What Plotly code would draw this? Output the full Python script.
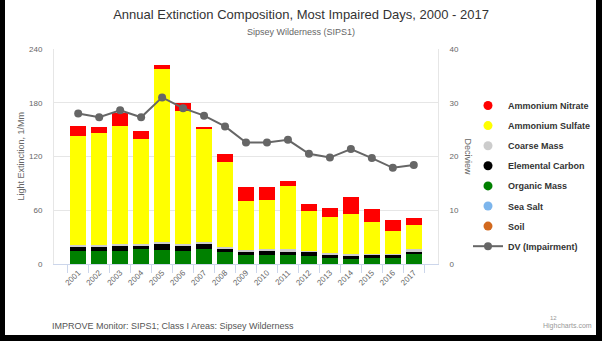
import plotly.graph_objects as go

years = [str(y) for y in range(2001, 2018)]
ammonium_nitrate = [11.0, 7.4, 14.5, 9.6, 5.2, 8.6, 3.0, 8.6, 15.2, 14.1, 5.9, 8.1, 10.1, 18.9, 14.8, 11.6, 8.5]
ammonium_sulfate = [122.2, 125.0, 131.7, 116.5, 193.0, 148.5, 125.9, 94.6, 54.9, 55.7, 70.6, 43.8, 40.0, 45.3, 35.2, 25.5, 26.8]
coarse_mass = [1.5, 1.5, 1.5, 1.9, 1.5, 1.8, 1.8, 1.5, 1.5, 1.5, 1.8, 1.5, 1.2, 1.5, 1.2, 1.2, 2.2]
elemental_carbon = [4.5, 4.5, 5.9, 4.5, 7.4, 5.9, 5.9, 4.8, 4.5, 4.4, 4.5, 4.1, 4.0, 3.4, 3.7, 3.3, 3.3]
organic_mass = [14.3, 14.5, 14.4, 15.8, 15.1, 14.4, 16.2, 12.5, 9.1, 9.9, 9.5, 8.8, 6.6, 5.4, 6.2, 6.6, 10.3]
sea_salt = [0.3, 0.3, 0.3, 0.3, 0.3, 0.3, 0.3, 0.3, 0.3, 0.3, 0.3, 0.3, 0.3, 0.3, 0.3, 0.3, 0.3]
soil = [0.2, 0.2, 0.2, 0.2, 0.2, 0.2, 0.2, 0.2, 0.2, 0.2, 0.2, 0.2, 0.2, 0.2, 0.2, 0.2, 0.2]
dv_impairment = [28.0, 27.3, 28.6, 27.3, 31.0, 29.0, 27.6, 25.6, 22.6, 22.6, 23.1, 20.5, 19.8, 21.4, 19.7, 17.9, 18.4]

VIEW_W = 602           # visible window width
W, H = 640, 341        # figure a bit wider so the legend is never squeezed
ML, MT, MB = 54, 49, 77
PLOT_RIGHT = 438
MR = W - PLOT_RIGHT
PW, PH = PLOT_RIGHT - ML, H - MT - MB
FONT = "Liberation Sans, Arial, Helvetica, sans-serif"


def px(xp):
    return (xp - ML) / PW


def py(yp):
    return (H - MB - yp) / PH


# (name, values, color) from bottom of stack to top
stack = [
    ("Soil", soil, "#d2691e"),
    ("Sea Salt", sea_salt, "#7cb5ec"),
    ("Organic Mass", organic_mass, "#008000"),
    ("Elemental Carbon", elemental_carbon, "#000000"),
    ("Coarse Mass", coarse_mass, "#cccccc"),
    ("Ammonium Sulfate", ammonium_sulfate, "#ffff00"),
    ("Ammonium Nitrate", ammonium_nitrate, "#ff0000"),
]

fig = go.Figure()
for name, vals, col in stack:
    fig.add_trace(go.Bar(x=years, y=vals, name=name, marker=dict(color=col, line=dict(width=0)),
                         showlegend=False))

# legend entries (circle symbols as in the original)
for name, vals, col in reversed(stack):
    fig.add_trace(go.Scatter(x=[None], y=[None], mode="markers", name=name, legendgroup=name,
                             marker=dict(symbol="circle", size=9, color=col)))

fig.add_trace(go.Scatter(x=years, y=dv_impairment, name="DV (Impairment)", yaxis="y2",
                         legendgroup="dv", mode="lines+markers",
                         line=dict(color="#666666", width=2),
                         marker=dict(symbol="circle", size=8, color="#666666")))

fig.update_layout(
    width=W, height=H,
    margin=dict(l=ML, r=MR, t=MT, b=MB, pad=0),
    paper_bgcolor="white", plot_bgcolor="white",
    font=dict(family=FONT, color="#666666", size=8),
    barmode="stack", bargap=0.22,
    title=dict(text="Annual Extinction Composition, Most Impaired Days, 2000 - 2017",
               x=301 / W, xanchor="center", xref="container",
               y=1 - 14 / H, yanchor="middle", yref="container",
               font=dict(family=FONT, size=13, color="#333333")),
    xaxis=dict(type="category", tickangle=-45, tickson="boundaries", ticks="outside",
               ticklen=8, tickcolor="#ccd6eb", showline=True, linecolor="#ccd6eb",
               showgrid=False, tickfont=dict(size=8, color="#666666"), mirror=False),
    yaxis=dict(range=[0, 240], dtick=60, showgrid=True, gridcolor="#e6e6e6", zeroline=False,
               ticks="outside", ticklen=9, tickcolor="rgba(0,0,0,0)",
               tickfont=dict(size=8, color="#666666"), showline=True, linecolor="#e6e6e6"),
    yaxis2=dict(range=[0, 40], dtick=10, overlaying="y", side="right", showgrid=False,
                zeroline=False, ticks="outside", ticklen=9, tickcolor="rgba(0,0,0,0)",
                tickfont=dict(size=8, color="#666666"), showline=True, linecolor="#e6e6e6"),
    legend=dict(x=px(468), xanchor="left", y=py(91), yanchor="top", orientation="v",
                font=dict(family=FONT, size=9, color="#333333", weight="bold"),
                tracegroupgap=1.1, itemsizing="trace", bgcolor="rgba(0,0,0,0)"),
    annotations=[
        dict(text="Sipsey Wilderness (SIPS1)", xref="paper", yref="paper", x=px(301), y=py(32),
             xanchor="center", yanchor="middle", showarrow=False,
             font=dict(family=FONT, size=9, color="#666666")),
        dict(text="Light Extinction, 1/Mm", xref="paper", yref="paper", x=px(20), y=0.5,
             xanchor="center", yanchor="middle", textangle=-90, showarrow=False,
             font=dict(family=FONT, size=9, color="#666666")),
        dict(text="Deciview", xref="paper", yref="paper", x=px(468), y=0.5,
             xanchor="center", yanchor="middle", textangle=90, showarrow=False,
             font=dict(family=FONT, size=9, color="#666666")),
        dict(text="IMPROVE Monitor: SIPS1; Class I Areas: Sipsey Wilderness", xref="paper",
             yref="paper", x=px(50), y=py(326), xanchor="left", yanchor="middle",
             showarrow=False, font=dict(family=FONT, size=9, color="#555555")),
        dict(text="12", xref="paper", yref="paper", x=px(548), y=py(318), xanchor="left",
             yanchor="middle", showarrow=False, font=dict(family=FONT, size=6, color="#999999")),
        dict(text="Highcharts.com", xref="paper", yref="paper", x=px(594), y=py(326),
             xanchor="right", yanchor="middle", showarrow=False,
             font=dict(family=FONT, size=7, color="#999999")),
    ],
    shapes=[
        dict(type="rect", xref="paper", yref="paper", x0=px(0), x1=px(5), y0=py(H), y1=py(0),
             fillcolor="black", line=dict(width=0), layer="above"),
        dict(type="rect", xref="paper", yref="paper", x0=px(596), x1=px(W), y0=py(H), y1=py(0),
             fillcolor="black", line=dict(width=0), layer="above"),
        dict(type="rect", xref="paper", yref="paper", x0=px(0), x1=px(VIEW_W), y0=py(H), y1=py(335),
             fillcolor="black", line=dict(width=0), layer="above"),
    ],
)

fig.write_html(
    "out.html",
    config={"displayModeBar": False},
    post_script="document.documentElement.style.margin='0';document.body.style.margin='0';"
                "document.documentElement.style.overflow='hidden';"
                "document.body.style.overflow='hidden';",
)
